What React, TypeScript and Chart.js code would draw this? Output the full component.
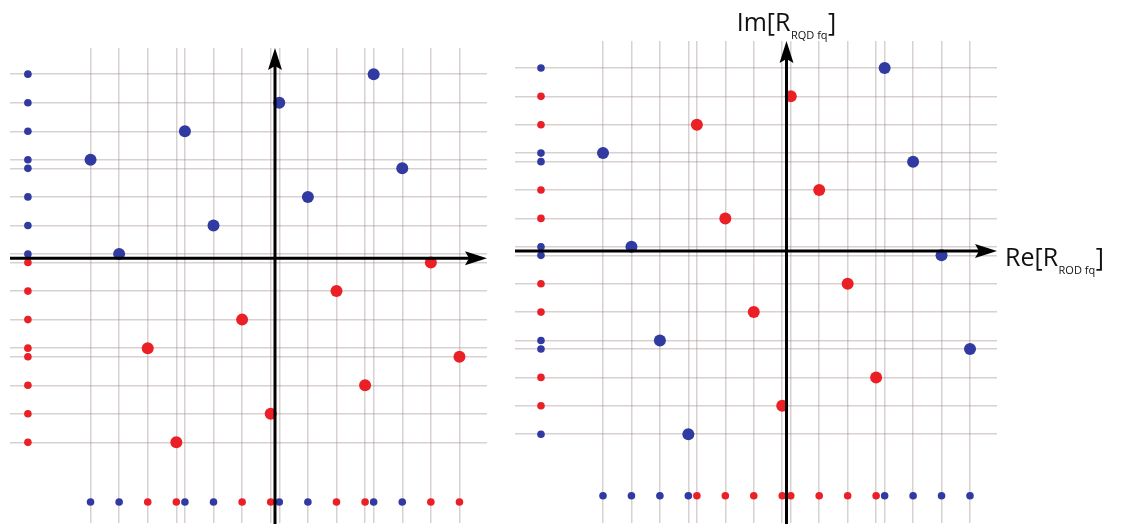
import React, { useEffect, useRef } from "react";
import { Chart, registerables } from "chart.js";
Chart.register(...registerables);

// Grid levels (tick positions) shared by both panels, in grid units
const LEVELS = [-6.45, -5.45, -4.45, -3.45, -3.15, -2.15, -1.15, -0.15, 0.15, 1.15, 2.15, 3.15, 3.45, 4.45, 5.45, 6.45];

// Left panel
const leftBlueX = [-6.45, -5.45, -3.15, -2.15, 0.15, 1.15, 3.45, 4.45];
const leftBlueY = [3.45, 0.15, 4.45, 1.15, 5.45, 2.15, 6.45, 3.15];
const leftRedX = [-4.45, -3.45, -1.15, -0.15, 2.15, 3.15, 5.45, 6.45];
const leftRedY = [-3.15, -6.45, -2.15, -5.45, -1.15, -4.45, -0.15, -3.45];

// Right panel
const rightBlueX = [-6.45, -5.45, -4.45, -3.45, 3.45, 4.45, 5.45, 6.45];
const rightBlueY = [3.45, 0.15, -3.15, -6.45, 6.45, 3.15, -0.15, -3.45];
const rightRedX = [-3.15, -2.15, -1.15, -0.15, 0.15, 1.15, 2.15, 3.15];
const rightRedY = [4.45, 1.15, -2.15, -5.45, 5.45, 2.15, -1.15, -4.45];

const IM_LABEL = ["Im[R", "RQD fq", "]"];
const RE_LABEL = ["Re[R", "ROD fq", "]"];

const BLUE = "rgb(48,58,160)";
const RED = "rgb(234,32,38)";
const GRID = "rgba(150,128,128,0.36)";
const FONT = "'Open Sans', 'Noto Sans', sans-serif";

// Chart.js keeps ~5px below the chart area; the canvas is made that much taller and clipped
const EXTRA = 5;

type Panel = {
  blueX: number[]; blueY: number[]; redX: number[]; redY: number[];
  xMin: number; xMax: number; yMin: number; yMax: number;
  projX: number; projY: number;
  padding: { left: number; right: number; top: number; bottom: number };
  width: number; height: number; left: number;
  labels: boolean;
};

const pts = (xs: number[], ys: number[]) => xs.map((x, i) => ({ x, y: ys[i] }));

function drawLabel(ctx: CanvasRenderingContext2D, parts: string[], x: number, baseline: number, align: "left" | "center") {
  ctx.save();
  const big = `25px ${FONT}`;
  const small = `11px ${FONT}`;
  ctx.font = big;
  const w1 = ctx.measureText(parts[0]).width;
  const w3 = ctx.measureText(parts[2]).width;
  ctx.font = small;
  const w2 = ctx.measureText(parts[1]).width;
  const total = w1 + w2 + w3 + 1;
  let sx = align === "center" ? x - total / 2 : x;
  ctx.fillStyle = "#111";
  ctx.textBaseline = "alphabetic";
  ctx.textAlign = "left";
  ctx.font = big;
  ctx.fillText(parts[0], sx, baseline);
  sx += w1 + 0.5;
  ctx.font = small;
  ctx.fillText(parts[1], sx, baseline + 8);
  sx += w2 + 0.5;
  ctx.font = big;
  ctx.fillText(parts[2], sx, baseline);
  ctx.restore();
}

const axesPlugin = {
  id: "axesArrows",
  afterDatasetsDraw(chart: any) {
    const { ctx, chartArea, scales } = chart;
    const x0 = scales.x.getPixelForValue(0);
    const y0 = scales.y.getPixelForValue(0);
    const L = 22, H = 7;
    ctx.save();
    ctx.strokeStyle = "#000";
    ctx.fillStyle = "#000";
    ctx.lineWidth = 3;
    ctx.beginPath();
    ctx.moveTo(chartArea.left, y0);
    ctx.lineTo(chartArea.right - L + 4, y0);
    ctx.stroke();
    ctx.beginPath();
    ctx.moveTo(chartArea.right, y0);
    ctx.lineTo(chartArea.right - L, y0 - H);
    ctx.lineTo(chartArea.right - L + 4, y0);
    ctx.lineTo(chartArea.right - L, y0 + H);
    ctx.closePath();
    ctx.fill();
    ctx.beginPath();
    ctx.moveTo(x0, chartArea.bottom + EXTRA);
    ctx.lineTo(x0, chartArea.top + L - 4);
    ctx.stroke();
    ctx.beginPath();
    ctx.moveTo(x0, chartArea.top);
    ctx.lineTo(x0 - H, chartArea.top + L);
    ctx.lineTo(x0, chartArea.top + L - 4);
    ctx.lineTo(x0 + H, chartArea.top + L);
    ctx.closePath();
    ctx.fill();
    ctx.restore();
    if (chart.options.plugins.axesArrows?.labels) {
      drawLabel(ctx, IM_LABEL, x0, 31, "center");
      drawLabel(ctx, RE_LABEL, chartArea.right + 8, y0 + 15, "left");
    }
  },
};

function PanelChart({ p }: { p: Panel }) {
  const ref = useRef<HTMLCanvasElement | null>(null);
  useEffect(() => {
    if (!ref.current) return;
    const mainR = 6;
    const projR = 3.8;
    const ds = (data: any[], color: string, r: number) => ({
      data, backgroundColor: color, borderColor: color, borderWidth: 0,
      pointRadius: r, pointHoverRadius: r, showLine: false,
    });
    const chart = new Chart(ref.current, {
      type: "scatter",
      data: {
        datasets: [
          ds(p.blueY.map((y) => ({ x: p.projX, y })), BLUE, projR),
          ds(p.redY.map((y) => ({ x: p.projX, y })), RED, projR),
          ds(p.redX.map((x) => ({ x, y: p.projY })), RED, projR),
          ds(p.blueX.map((x) => ({ x, y: p.projY })), BLUE, projR),
          ds(pts(p.blueX, p.blueY), BLUE, mainR),
          ds(pts(p.redX, p.redY), RED, mainR),
        ],
      },
      options: {
        animation: false,
        responsive: false,
        events: [],
        layout: { padding: p.padding },
        plugins: { legend: { display: false }, tooltip: { enabled: false }, axesArrows: { labels: p.labels } } as any,
        scales: {
          x: {
            type: "linear", min: p.xMin, max: p.xMax,
            afterBuildTicks: (axis: any) => { axis.ticks = LEVELS.map((v) => ({ value: v })); },
            afterFit: (s: any) => { s.height = 0; },
            ticks: { display: false },
            border: { display: false },
            grid: { color: GRID, lineWidth: 1.5, drawTicks: false },
          },
          y: {
            type: "linear", min: p.yMin, max: p.yMax,
            afterBuildTicks: (axis: any) => { axis.ticks = LEVELS.map((v) => ({ value: v })); },
            afterFit: (s: any) => { s.width = 0; },
            ticks: { display: false },
            border: { display: false },
            grid: { color: GRID, lineWidth: 1.5, drawTicks: false },
          },
        },
      },
      plugins: [axesPlugin],
    } as any);
    return () => chart.destroy();
  }, []);
  return (
    <canvas
      ref={ref}
      width={p.width}
      height={p.height + EXTRA}
      style={{ position: "absolute", left: p.left, top: 0, width: p.width, height: p.height + EXTRA, display: "block" }}
    />
  );
}

const LEFT: Panel = {
  blueX: leftBlueX, blueY: leftBlueY, redX: leftRedX, redY: leftRedY,
  xMin: -9.266, xMax: 7.413, yMin: -9.276, yMax: 7.367,
  projX: -8.64, projY: -8.54,
  padding: { left: 10, right: 18, top: 48, bottom: 0 },
  width: 505, height: 524, left: 0, labels: false,
};

const RIGHT: Panel = {
  blueX: rightBlueX, blueY: rightBlueY, redX: rightRedX, redY: rightRedY,
  xMin: -9.543, xMax: 7.399, yMin: -9.578, yMax: 7.399,
  projX: -8.63, projY: -8.62,
  padding: { left: 10, right: 124, top: 41, bottom: 0 },
  width: 616, height: 524, left: 505, labels: true,
};

export default function App() {
  return (
    <div style={{ position: "fixed", left: 0, top: 0, width: 1121, height: 524, background: "#fff", overflow: "hidden" }}>
      <PanelChart p={LEFT} />
      <PanelChart p={RIGHT} />
    </div>
  );
}
